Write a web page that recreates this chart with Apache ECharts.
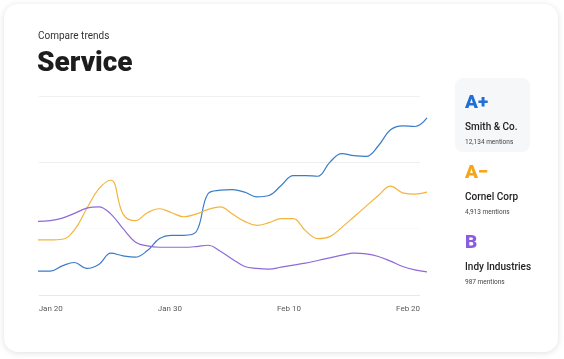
<!DOCTYPE html>
<html>
<head>
<meta charset="utf-8">
<script src="https://cdn.jsdelivr.net/npm/echarts@6/dist/echarts.min.js"></script>
<style>
  html, body { margin: 0; padding: 0; background: #ffffff; width: 564px; height: 359px; overflow: hidden; }
  #card { position: absolute; left: 4px; top: 4px; width: 554px; height: 348px; background: #fff;
          border-radius: 14px; box-shadow: 0 1px 6px rgba(0,0,0,0.13); }
  #chart { position: absolute; left: 0; top: 0; width: 564px; height: 359px; }
</style>
</head>
<body>
<div id="card"></div>
<div id="chart"></div>
<script>
// ---- data ----
const tickLabels = ['Jan 20', 'Jan 30', 'Feb 10', 'Feb 20'];
const tickIndex = [1, 11, 21, 31];
const pointCount = 33;

const smithValues  = [36,36,44,49,40,46,63,59,57,67,85,90,90,95,153,158,159,155,148,150,165,180,180,179,200,213,210,209,225,249,255,254,267];
const cornelValues = [83,83,84,98,130,160,173,122,112,124,130,124,118,122,129,133,122,111,105,109,115,115,97,85,88,102,118,134,150,164,154,152,155];
const indyValues   = [111,112,116,123,131,133,122,100,80,74,72,72,72,73,75,66,54,43,40,39,42,45,48,52,56,60,63,62,58,51,43,38,35];

const companies = ['Smith & Co.', 'Cornel Corp', 'Indy Industries'];
const grades = ['A+', 'A\u2212', 'B'];
const mentions = ['12,134 mentions', '4,913 mentions', '987 mentions'];

// ---- styles ----
const lineColors = ['#3a7cc8', '#f4b43c', '#8f6ad6'];
const gradeColors = ['#1f6fd6', '#f5a518', '#8b5be0'];
const FONT = 'Roboto, "Noto Sans", sans-serif';

const categories = [];
for (let i = 0; i < pointCount; i++) {
  const k = tickIndex.indexOf(i);
  categories.push(k >= 0 ? tickLabels[k] : String(i));
}

const seriesValues = [smithValues, cornelValues, indyValues];

const graphics = [
  { type: 'text', left: 38, top: 31.5, style: { text: 'Compare trends', fill: '#333', font: '400 10px ' + FONT } },
  { type: 'text', x: 37, y: 64, style: { text: 'Service', fill: '#1d1d1d', font: '900 28px ' + FONT, verticalAlign: 'middle' } },
  { type: 'rect', shape: { x: 455, y: 78, width: 75, height: 74, r: 8 }, style: { fill: '#f6f7f9' }, z: -1 }
];
companies.forEach((name, i) => {
  const dy = i * 70;
  graphics.push({ type: 'text', x: 465, y: 103 + dy, style: { text: grades[i], fill: gradeColors[i], font: '900 19px ' + FONT, verticalAlign: 'middle' } });
  graphics.push({ type: 'text', x: 465, y: 127 + dy, style: { text: name, fill: '#222', font: '500 10px ' + FONT, verticalAlign: 'middle' } });
  graphics.push({ type: 'text', x: 465, y: 142 + dy, style: { text: mentions[i], fill: '#444', font: '400 6.5px ' + FONT, verticalAlign: 'middle' } });
});

const chart = echarts.init(document.getElementById('chart'), null, { renderer: 'canvas' });
chart.setOption({
  animation: false,
  backgroundColor: 'transparent',
  grid: [
    { left: 38.8, top: 96, width: 381.2, height: 199, containLabel: false },
    { left: 38, top: 96, width: 389, height: 199, containLabel: false }
  ],
  xAxis: [
    {
      type: 'category', gridIndex: 0, data: categories, boundaryGap: false,
      axisLine: { show: false }, axisTick: { show: false }, splitLine: { show: false },
      axisLabel: {
        interval: (idx) => tickIndex.indexOf(idx) >= 0,
        color: '#5a5a5a', fontSize: 8, fontFamily: FONT, margin: 10
      }
    },
    {
      type: 'category', gridIndex: 1, data: categories, boundaryGap: false, show: false
    }
  ],
  yAxis: [
    {
      type: 'value', gridIndex: 0, min: 0, max: 300, interval: 100,
      axisLine: { show: false }, axisTick: { show: false }, axisLabel: { show: false },
      splitLine: { show: true, lineStyle: { color: ['#e8e8e8', '#fafafa', '#eeeeee', '#f0f0f0'], width: 1 } }
    },
    {
      type: 'value', gridIndex: 1, min: 0, max: 300, show: false, splitLine: { show: false }
    }
  ],
  series: seriesValues.map((vals, i) => ({
    name: companies[i],
    type: 'line',
    xAxisIndex: 1, yAxisIndex: 1,
    data: vals,
    smooth: 0.4,
    showSymbol: false,
    symbol: 'none',
    lineStyle: { color: lineColors[i], width: 1.2 },
    itemStyle: { color: lineColors[i] }
  })),
  graphic: graphics
});
</script>
</body>
</html>
